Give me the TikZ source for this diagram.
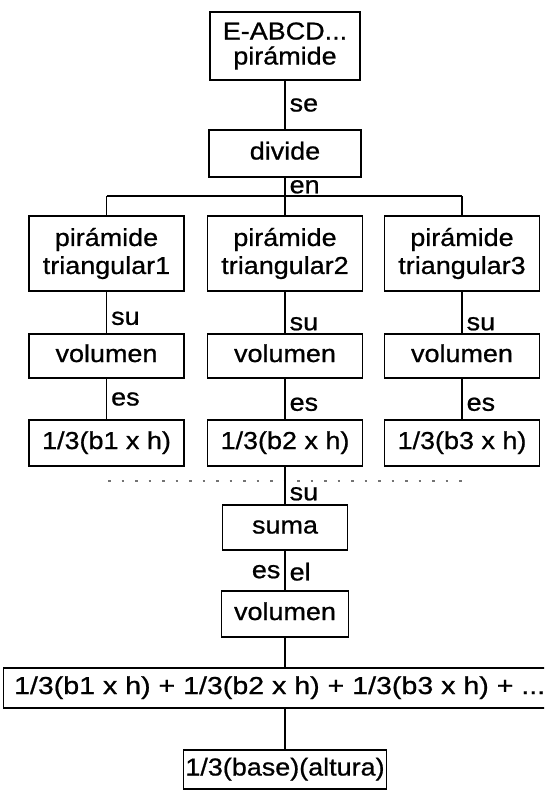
\documentclass[tikz,border=0pt]{standalone}
\usepackage{graphicx}
\usepackage{fontspec}
\setmainfont{Liberation Sans}[FakeStretch=1.1, FakeBold=0.8]
\newcommand{\myfs}{\fontsize{24.5}{28}\selectfont}
\newcommand{\myfstop}{\fontsize{24.5}{25}\selectfont}
\begin{document}
\begin{tikzpicture}[x=1pt,y=-1pt,
  every node/.style={font=\myfs},
  box/.style={draw=black, line width=1.3pt, inner sep=0pt, align=center},
  one/.style={text height=18pt, text depth=6pt},
  lab/.style={inner sep=4pt},
  conn/.style={line width=1.3pt},
  dotline/.style={line width=2pt, black!55, dash pattern=on 2.5pt off 11pt}]
\useasboundingbox (0,0) rectangle (544,790);
\clip (0,0) rectangle (544,790);

\node[box, minimum width=150pt, minimum height=68pt, font=\myfstop] (top) at (285,46) {E-ABCD...\\pirámide};
\node[box, one, minimum width=152pt, minimum height=47pt] (div) at (285,153.5) {divide};

\coordinate (h1) at (106.5,196);
\coordinate (h2) at (285,196);
\coordinate (h3) at (462,196);

\node[box, minimum width=155pt, minimum height=75pt] (r1) at (106.5,253.5) {pirámide\\triangular1};
\node[box, minimum width=155pt, minimum height=75pt] (r2) at (285,253.5) {pirámide\\triangular2};
\node[box, minimum width=155pt, minimum height=75pt] (r3) at (462,253.5) {pirámide\\triangular3};

\node[box, one, minimum width=155pt, minimum height=44pt] (v1) at (106.5,356) {volumen};
\node[box, one, minimum width=155pt, minimum height=44pt] (v2) at (285,356) {volumen};
\node[box, one, minimum width=155pt, minimum height=44pt] (v3) at (462,356) {volumen};

\node[box, one, minimum width=155pt, minimum height=46pt] (b1) at (106.5,443) {1/3(b1 x h)};
\node[box, one, minimum width=155pt, minimum height=46pt] (b2) at (285,443) {1/3(b2 x h)};
\node[box, one, minimum width=155pt, minimum height=46pt] (b3) at (462,443) {1/3(b3 x h)};

\coordinate (d1) at (108,481);
\coordinate (d3) at (463,481);

\node[box, one, minimum width=125pt, minimum height=45pt] (suma) at (285,527.5) {suma};
\node[box, one, minimum width=127pt, minimum height=46pt] (vol) at (285,614) {volumen};
\node[box, one, minimum width=552pt, minimum height=40pt, anchor=west] (wide) at (3,688) {\scalebox{1.06}[1]{1/3(b1 x h) + 1/3(b2 x h) + 1/3(b3 x h) + ...}};
\node[box, one, minimum height=39pt, inner xsep=2pt] (last) at (285,769.5) {1/3(base)(altura)};

\draw[conn] (top.south) -- (div.north) node[lab, midway, anchor=west] {se};
\draw[conn] (div.south) -- (h2) node[lab, midway, anchor=west] {en};
\draw[conn] (h1) -- (h3);
\draw[conn] (h1) -- (r1.north);
\draw[conn] (h2) -- (r2.north);
\draw[conn] (h3) -- (r3.north);

\draw[conn] (r1.south) -- (v1.north) node[lab, pos=0.64, anchor=west] {su};
\draw[conn] (r2.south) -- (v2.north) node[lab, pos=0.77, anchor=west] {su};
\draw[conn] (r3.south) -- (v3.north) node[lab, pos=0.77, anchor=west] {su};

\draw[conn] (v1.south) -- (b1.north) node[lab, pos=0.5, anchor=west] {es};
\draw[conn] (v2.south) -- (b2.north) node[lab, pos=0.63, anchor=west] {es};
\draw[conn] (v3.south) -- (b3.north) node[lab, pos=0.63, anchor=west] {es};

\draw[dotline] (d1) -- (d3);
\draw[conn] (b2.south) -- (suma.north) node[lab, pos=0.72, anchor=west] {su};
\draw[conn] (suma.south) -- (vol.north)
  node[lab, pos=0.53, anchor=east] {es}
  node[lab, pos=0.53, anchor=west] {el};
\draw[conn] (vol.south) -- (vol.south |- wide.north);
\draw[conn] (last.north |- wide.south) -- (last.north);
\end{tikzpicture}
\end{document}
